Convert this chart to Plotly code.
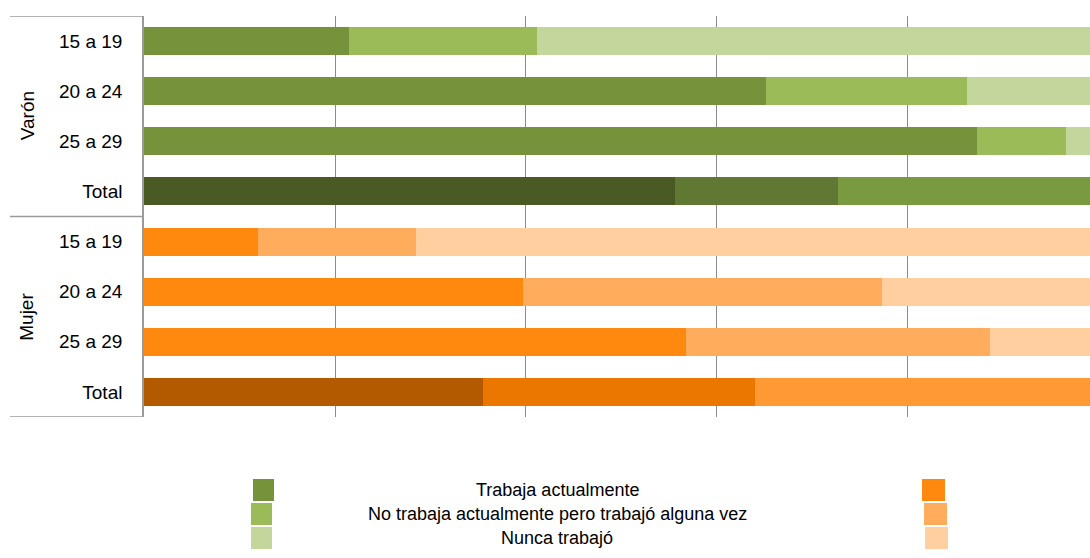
import plotly.graph_objects as go

# ---- data (percent) ----
row_labels = ["15 a 19", "20 a 24", "25 a 29", "Total", "15 a 19", "20 a 24", "25 a 29", "Total"]
groups = ["Varón", "Mujer"]
series_names = ["Trabaja actualmente", "No trabaja actualmente pero trabajó alguna vez", "Nunca trabajó"]
trabaja = [21.5, 65.1, 87.2, 55.6, 11.9, 39.7, 56.8, 35.5]
trabajo_alguna = [19.7, 21.1, 9.3, 17.1, 16.6, 37.6, 31.8, 28.5]
nunca = [58.8, 13.8, 3.5, 27.3, 71.5, 22.7, 11.4, 36.0]

# ---- colours ----
green = ["#76933C", "#9BBB59", "#C3D69B"]
green_total = ["#4A5A24", "#617734", "#7A9A40"]
orange = ["#FF880F", "#FFAD5C", "#FFCFA0"]
orange_total = ["#B35A00", "#EC7700", "#FF9933"]

def colors_for(k):
    out = []
    for i, lab in enumerate(row_labels):
        male = i < 4
        if lab == "Total":
            out.append((green_total if male else orange_total)[k])
        else:
            out.append((green if male else orange)[k])
    return out

ypos = list(range(len(row_labels)))
FONT = "Liberation Sans, Arial, Helvetica, sans-serif"

fig = go.Figure()
for k, vals in enumerate([trabaja, trabajo_alguna, nunca]):
    fig.add_trace(go.Bar(
        x=vals, y=ypos, orientation="h", name=series_names[k],
        marker=dict(color=colors_for(k), line=dict(width=0)),
        width=0.56, showlegend=False,
    ))

W, H = 1090, 558
L, R, T, B = 144, 0, 16, 141
pw = W - L - R
ph = H - T - B

fig.update_layout(
    width=W, height=H, barmode="stack",
    margin=dict(l=L, r=R, t=T, b=B),
    paper_bgcolor="white", plot_bgcolor="white",
    font=dict(family=FONT, size=19, color="#000000"),
    xaxis=dict(range=[0, 99.06], dtick=20, showgrid=True, gridcolor="#8C8C8C", gridwidth=1,
               showticklabels=False, zeroline=False, showline=False, fixedrange=True),
    yaxis=dict(range=[7.5, -0.5], tickvals=ypos, ticktext=row_labels, showgrid=False,
               zeroline=False, showline=True, linecolor="#9A9A9A", linewidth=1.5,
               ticks="", ticklabelstandoff=16, tickfont=dict(size=19, family=FONT)),
)

def px2paper_x(px):
    return (px - L) / pw

def px2paper_y(py):
    return 1 - (py - T) / ph

# group separator lines
for yv in [-0.5, 3.5, 7.5]:
    fig.add_shape(type="line", xref="paper", yref="y", x0=px2paper_x(10), x1=px2paper_x(143),
                  y0=yv, y1=yv, line=dict(color="#9A9A9A", width=1.5))

# group labels
for gi, g in enumerate(groups):
    fig.add_annotation(text=g, xref="paper", yref="y", x=px2paper_x(27), y=1.5 + 4 * gi,
                       showarrow=False, textangle=-90, font=dict(size=19, family=FONT),
                       xanchor="center", yanchor="middle")

# custom legend
legend_y = [490, 514, 538]
green_sq_x = [253, 251, 251]
orange_sq_x = [922, 924, 925]
for k in range(3):
    yc = legend_y[k]
    fig.add_shape(type="rect", xref="paper", yref="paper",
                  x0=px2paper_x(green_sq_x[k]), x1=px2paper_x(green_sq_x[k] + 21),
                  y0=px2paper_y(yc - 11), y1=px2paper_y(yc + 11),
                  fillcolor=green[k], line=dict(width=0))
    fig.add_shape(type="rect", xref="paper", yref="paper",
                  x0=px2paper_x(orange_sq_x[k]), x1=px2paper_x(orange_sq_x[k] + 23),
                  y0=px2paper_y(yc - 11), y1=px2paper_y(yc + 11),
                  fillcolor=orange[k], line=dict(width=0))
    fig.add_annotation(text=series_names[k], xref="paper", yref="paper",
                       x=px2paper_x(557), y=px2paper_y(yc), showarrow=False,
                       xanchor="center", yanchor="middle", font=dict(size=18, family=FONT))

fig.write_html(
    "out.html",
    config={"displayModeBar": False},
    post_script="document.body.style.margin='0';document.body.style.overflow='hidden';",
)
